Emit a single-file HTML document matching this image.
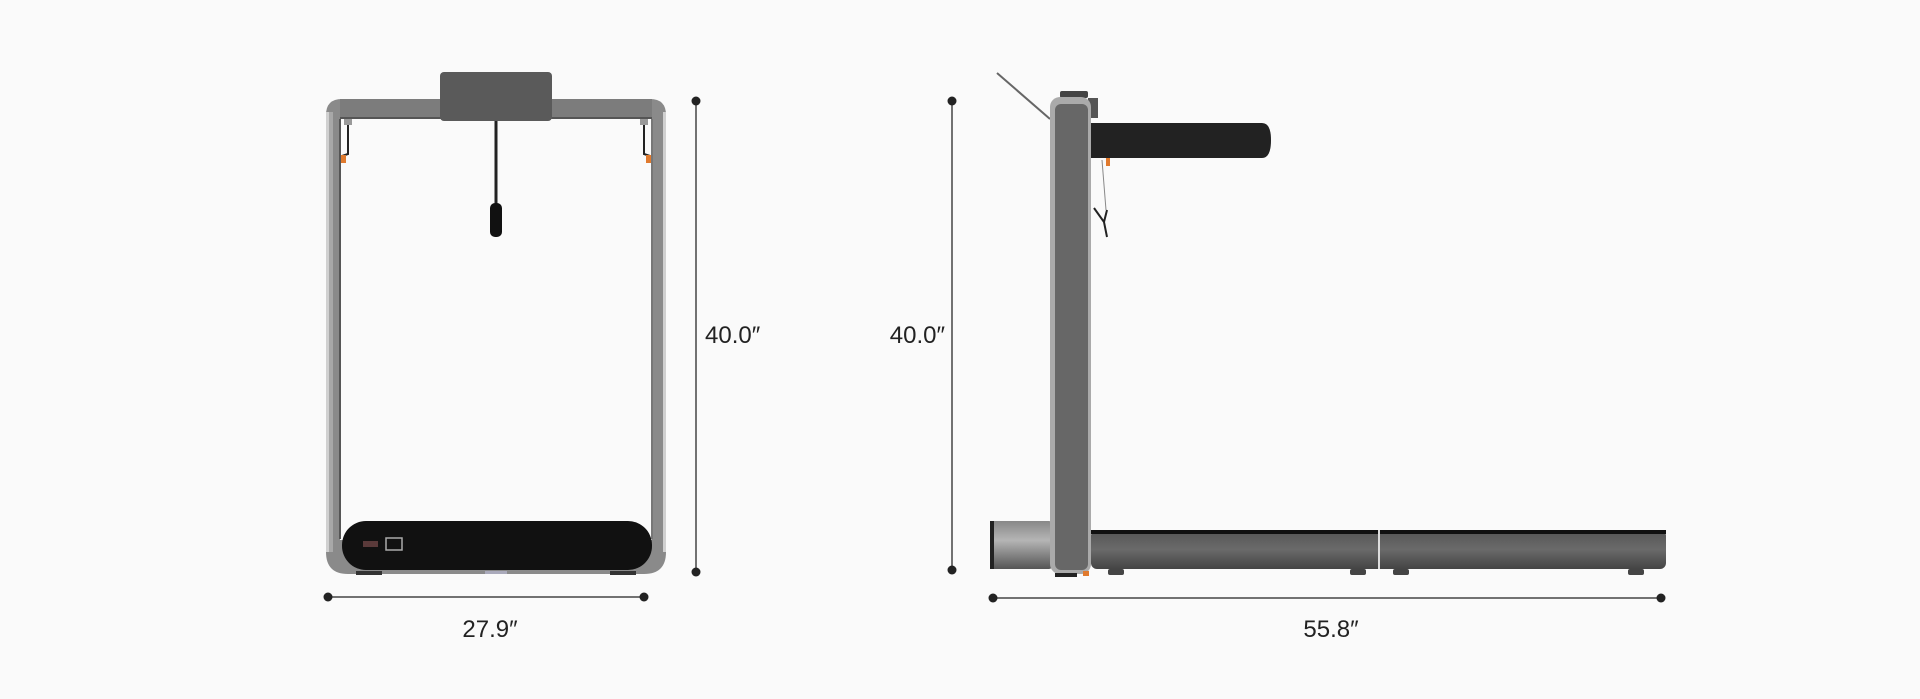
<!DOCTYPE html>
<html><head><meta charset="utf-8"><style>
html,body{margin:0;padding:0;background:#fafafa;}
svg{display:block}
text{font-family:"Liberation Sans",sans-serif;font-size:24px;fill:#222}
</style></head><body>
<svg width="1920" height="699" viewBox="0 0 1920 699" xmlns="http://www.w3.org/2000/svg">
<defs>
<linearGradient id="deck" x1="0" y1="0" x2="0" y2="1"><stop offset="0" stop-color="#555"/><stop offset="0.5" stop-color="#6a6a6a"/><stop offset="1" stop-color="#444"/></linearGradient>
<linearGradient id="mot" x1="0" y1="0" x2="0" y2="1"><stop offset="0" stop-color="#888"/><stop offset="0.4" stop-color="#b5b5b5"/><stop offset="1" stop-color="#555"/></linearGradient>
</defs>

<!-- FRONT VIEW -->
<path d="M326,552 L326,115 Q326,99 342,99 L650,99 Q666,99 666,115 L666,552 Q666,574 644,574 L348,574 Q326,574 326,552 Z" fill="#8a8a8a"/>
<rect x="326" y="112" width="3" height="440" fill="#d0d0d0"/>
<rect x="663" y="112" width="3" height="440" fill="#d0d0d0"/>
<rect x="329" y="112" width="4" height="440" fill="#a8a8a8"/>
<path d="M340,119 L652,119 L652,540 L340,540 Z" fill="#fafafa"/>
<rect x="339" y="119" width="2" height="420" fill="#555"/>
<rect x="651" y="119" width="2" height="420" fill="#777"/>
<rect x="340" y="99" width="312" height="20" fill="#7c7c7c"/>
<rect x="340" y="117" width="312" height="2" fill="#555"/>
<rect x="440" y="72" width="112" height="49" rx="4" fill="#5a5a5a"/>
<rect x="344" y="119" width="8" height="6" fill="#999"/>
<rect x="640" y="119" width="8" height="6" fill="#999"/>
<path d="M348,125 L348,154 L342,156" stroke="#222" stroke-width="2" fill="none"/>
<path d="M644,125 L644,154 L650,156" stroke="#222" stroke-width="2" fill="none"/>
<rect x="341" y="155" width="5" height="8" fill="#e07a2e"/>
<rect x="646" y="155" width="5" height="8" fill="#e07a2e"/>
<line x1="496" y1="121" x2="496" y2="205" stroke="#222" stroke-width="3"/>
<rect x="490" y="203" width="12" height="34" rx="5" fill="#111"/>
<rect x="342" y="521" width="310" height="49" rx="24" fill="#111"/>
<rect x="363" y="541" width="15" height="6" fill="#5a3a3a"/>
<rect x="386" y="538" width="16" height="12" fill="none" stroke="#aaa" stroke-width="1.5"/>
<rect x="356" y="571" width="26" height="4" fill="#333"/>
<rect x="610" y="571" width="26" height="4" fill="#333"/>
<rect x="485" y="571" width="22" height="3" fill="#aab"/>

<line x1="696" y1="101" x2="696" y2="572" stroke="#444" stroke-width="1.5"/>
<circle cx="696" cy="101" r="4.5" fill="#222"/><circle cx="696" cy="572" r="4.5" fill="#222"/>
<text x="705" y="343">40.0″</text>
<line x1="328" y1="597" x2="644" y2="597" stroke="#444" stroke-width="1.5"/>
<circle cx="328" cy="597" r="4.5" fill="#222"/><circle cx="644" cy="597" r="4.5" fill="#222"/>
<text x="490" y="637" text-anchor="middle">27.9″</text>

<!-- SIDE VIEW -->
<line x1="997" y1="73" x2="1050" y2="119" stroke="#666" stroke-width="2"/>
<rect x="1060" y="91" width="28" height="7" rx="2" fill="#444"/>
<rect x="1088" y="98" width="10" height="20" fill="#555"/>
<path d="M1091,123 L1262,123 Q1271,123 1271,140 Q1271,158 1262,158 L1091,158 Z" fill="#222"/>
<rect x="1106" y="158" width="4" height="8" fill="#e07a2e"/>
<line x1="1102" y1="160" x2="1106" y2="210" stroke="#888" stroke-width="1"/>
<path d="M1094,208 L1104,222 L1107,237 M1104,222 L1107,210" stroke="#222" stroke-width="2" fill="none"/>
<rect x="990" y="521" width="62" height="48" rx="3" fill="url(#mot)"/>
<rect x="990" y="521" width="4" height="48" fill="#222"/>
<rect x="1091" y="530" width="575" height="39" rx="6" fill="url(#deck)"/>
<rect x="1091" y="530" width="575" height="4" fill="#111"/>
<rect x="1378" y="530" width="2" height="39" fill="#ddd"/>
<rect x="1050" y="97" width="41" height="477" rx="10" fill="#aaa"/>
<rect x="1055" y="104" width="33" height="466" rx="6" fill="#676767"/>
<rect x="1108" y="569" width="16" height="6" rx="2" fill="#444"/>
<rect x="1350" y="569" width="16" height="6" rx="2" fill="#444"/>
<rect x="1393" y="569" width="16" height="6" rx="2" fill="#444"/>
<rect x="1628" y="569" width="16" height="6" rx="2" fill="#444"/>
<rect x="1055" y="573" width="22" height="4" fill="#222"/>
<rect x="1083" y="571" width="6" height="5" fill="#e07a2e"/>

<line x1="952" y1="101" x2="952" y2="570" stroke="#444" stroke-width="1.5"/>
<circle cx="952" cy="101" r="4.5" fill="#222"/><circle cx="952" cy="570" r="4.5" fill="#222"/>
<text x="945" y="343" text-anchor="end">40.0″</text>
<line x1="993" y1="598" x2="1661" y2="598" stroke="#444" stroke-width="1.5"/>
<circle cx="993" cy="598" r="4.5" fill="#222"/><circle cx="1661" cy="598" r="4.5" fill="#222"/>
<text x="1331" y="637" text-anchor="middle">55.8″</text>
</svg>
</body></html>
